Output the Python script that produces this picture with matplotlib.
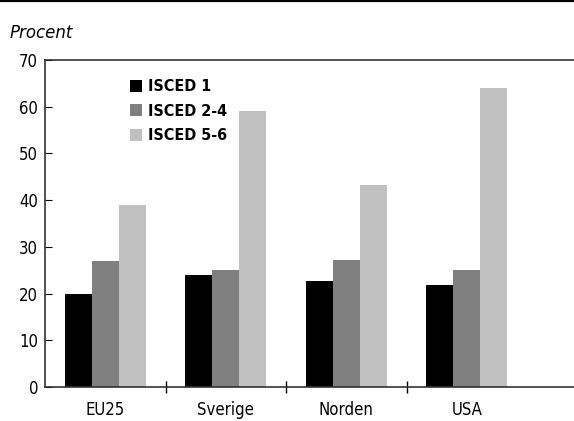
import numpy as np
import matplotlib.pyplot as plt
from matplotlib.lines import Line2D

categories = ['EU25', 'Sverige', 'Norden', 'USA']
series = ['ISCED 1', 'ISCED 2-4', 'ISCED 5-6']
isced1 = [20, 24, 22.7, 21.8]
isced24 = [27, 25, 27.2, 25]
isced56 = [39, 59, 43.2, 64]
colors = ['#000000', '#808080', '#c0c0c0']

plt.rcParams['font.family'] = ['Liberation Sans Narrow', 'DejaVu Sans']
plt.rcParams['font.stretch'] = 'condensed'

fig = plt.figure(figsize=(5.74, 4.21), dpi=100)
ax = fig.add_axes([45/574, 34/421, 1 - 45/574, 327/421])

x = np.arange(len(categories))
w = 0.224
for i, (vals, name) in enumerate(zip([isced1, isced24, isced56], series)):
    ax.bar(x + (i - 1) * w, vals, w, color=colors[i], label=name)

ax.set_xlim(-0.5, 3.89)
ax.set_ylim(0, 70)
ax.set_yticks(range(0, 71, 10))
ax.set_xticks([0.5, 1.5, 2.5])
ax.set_xticks(x, minor=True)
ax.set_xticklabels([])
ax.set_xticklabels(categories, minor=True, fontsize=12)
ax.tick_params(axis='x', which='major', direction='inout', length=8, width=1)
ax.tick_params(axis='x', which='minor', length=0, pad=10)
ax.tick_params(axis='y', direction='in', length=5, labelsize=12, pad=5)
ax.spines['right'].set_visible(False)
for s in ['left', 'top', 'bottom']:
    ax.spines[s].set_linewidth(1.2)
    ax.spines[s].set_color('#333333')

leg = ax.legend(loc='upper left', bbox_to_anchor=(0.133, 0.985), frameon=False,
                handlelength=0.75, handleheight=0.75, handletextpad=0.4,
                labelspacing=0.6, prop={'weight': 'bold', 'size': 11.5})

fig.text(10/574, 1 - 33/421, 'Procent', fontsize=12, style='italic',
         stretch='normal', va='center', ha='left')
fig.add_artist(Line2D([0, 1], [0.997, 0.997], color='black', lw=1.6,
                      transform=fig.transFigure))

fig.savefig('out.png', dpi=100)
